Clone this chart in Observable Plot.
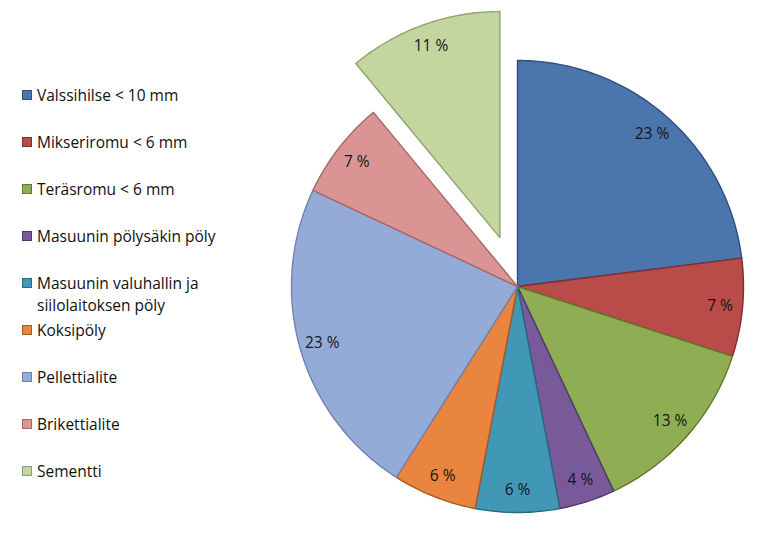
<!DOCTYPE html>
<html><head><meta charset="utf-8">
<script src="https://cdn.jsdelivr.net/npm/d3@7"></script>
<script src="https://cdn.jsdelivr.net/npm/@observablehq/plot@0.6"></script>
<style>
body{margin:0;background:#fff;}
#wrap{position:relative;width:763px;height:534px;overflow:hidden;}
#chart{position:absolute;left:0;top:0;}
#legend{position:absolute;left:22px;top:84px;font-family:"Open Sans",Lato,sans-serif;font-size:15.5px;color:#111;font-variant-ligatures:none;}
.item{display:flex;align-items:flex-start;line-height:22px;margin-bottom:25px;}
.item.multi{margin-bottom:3px;}
.sw{width:10px;height:10px;margin-top:6px;margin-right:5px;flex:none;box-sizing:border-box;border:1px solid;}
.lab{max-width:200px;}
</style></head>
<body><div id="wrap"><div id="chart"></div><div id="legend"></div></div>
<script>
const names = ["Valssihilse < 10 mm","Mikseriromu < 6 mm","Teräsromu < 6 mm","Masuunin pölysäkin pöly","Masuunin valuhallin ja siilolaitoksen pöly","Koksipöly","Pellettialite","Brikettialite","Sementti"];
const values = [23,7,13,4,6,6,23,7,11];
const colors = ["#4a75ad","#b94c49","#8fad52","#785a9b","#4198b6","#e9853e","#95abd7","#d99493","#c3d69f"];
const edges  = ["#2f4f7c","#7e2f2d","#62782f","#4e3a68","#2a6a80","#a85a22","#6f84ad","#a86866","#8fa26c"];
const exploded = [0,0,0,0,0,0,0,0,1];

const W = 763, H = 534, cx = 517, cy = 286, R = 226, explodeDist = 52, labelFrac = 0.9;
const data = names.map((name,i)=>({name, value: values[i], color: colors[i], edge: edges[i], exploded: exploded[i]}));
const arcs = d3.pie().sort(null).value(d=>d.value)(data);

const marks = [];
const labels = [];
arcs.forEach(a=>{
  const mid = (a.startAngle + a.endAngle)/2;
  const off = a.data.exploded ? explodeDist : 0;
  const ox = cx + off*Math.sin(mid), oy = cy - off*Math.cos(mid);
  const pts = [{x:ox,y:oy}];
  const n = Math.max(2, Math.ceil((a.endAngle-a.startAngle)/(Math.PI/180)));
  for(let k=0;k<=n;k++){
    const t = a.startAngle + (a.endAngle-a.startAngle)*k/n;
    pts.push({x: ox + R*Math.sin(t), y: oy - R*Math.cos(t)});
  }
  pts.push({x:ox,y:oy});
  marks.push(Plot.line(pts,{x:"x",y:"y",fill:a.data.color,stroke:a.data.edge,strokeWidth:1.4,strokeLinejoin:"round",curve:"linear"}));
  labels.push({x: ox + labelFrac*R*Math.sin(mid), y: oy - labelFrac*R*Math.cos(mid), t: a.data.value + " %"});
});
marks.push(Plot.text(labels,{x:"x",y:"y",text:"t",fontSize:15.5,fill:"#151515",fontFamily:"'Open Sans', Lato, sans-serif"}));

const chart = Plot.plot({
  width: W, height: H, margin: 0,
  x: {domain:[0,W], range:[0,W], axis:null},
  y: {domain:[0,H], range:[0,H], axis:null},
  style: {background:"#fff"},
  marks
});
document.getElementById("chart").append(chart);

const leg = document.getElementById("legend");
data.forEach(d=>{
  const it = document.createElement("div");
  it.className = "item" + (d.name.length > 30 ? " multi" : "");
  const sw = document.createElement("div");
  sw.className = "sw"; sw.style.background = d.color; sw.style.borderColor = d.edge;
  const lb = document.createElement("div");
  lb.className = "lab"; lb.textContent = d.name;
  it.append(sw, lb); leg.append(it);
});
</script></body></html>
